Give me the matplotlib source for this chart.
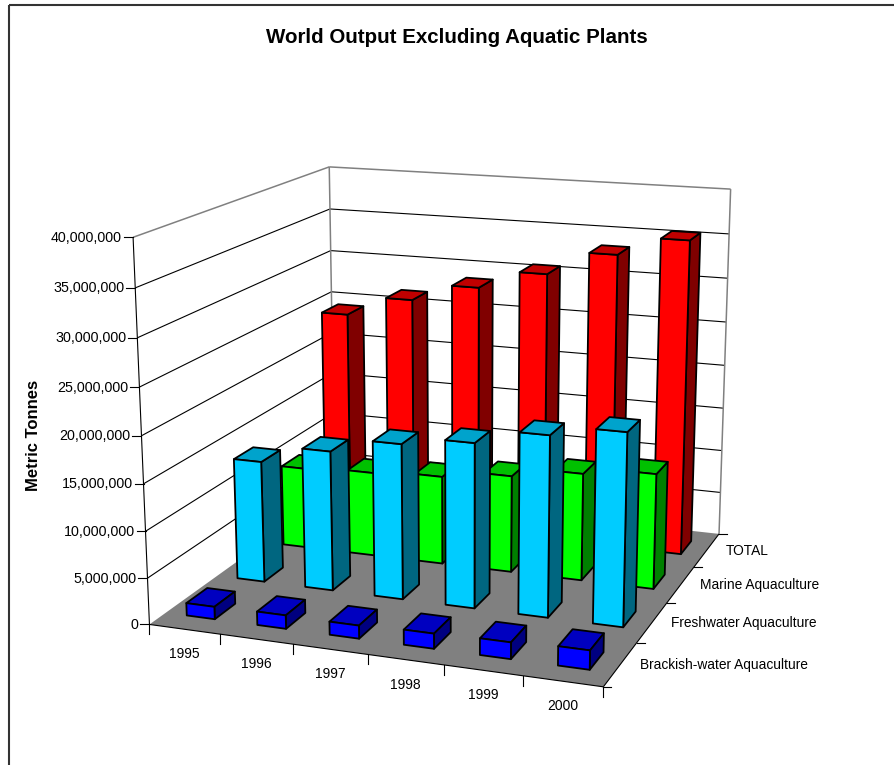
import numpy as np
import matplotlib
matplotlib.use("Agg")
import matplotlib.pyplot as plt
from mpl_toolkits.mplot3d.art3d import Poly3DCollection, Line3DCollection

plt.rcParams['font.family'] = ['Liberation Sans', 'DejaVu Sans']

years = ['1995', '1996', '1997', '1998', '1999', '2000']
series = ['Brackish-water Aquaculture', 'Freshwater Aquaculture', 'Marine Aquaculture', 'TOTAL']
brackish = [1350000, 1450000, 1400000, 1600000, 1750000, 2000000]
freshwater = [13450000, 15400000, 17000000, 17900000, 19500000, 20600000]
marine = [9250000, 9600000, 10000000, 10900000, 12000000, 12800000]
total = [24400000, 26700000, 28700000, 30800000, 33500000, 35600000]
values = [brackish, freshwater, marine, total]
y_ticks = [0, 5000000, 10000000, 15000000, 20000000, 25000000, 30000000, 35000000, 40000000]
face = ['#0000FF', '#00CCFF', '#00FF00', '#FF0000']
side = ['#000080', '#006680', '#008000', '#800000']
top = ['#0000C0', '#00A3CC', '#00C000', '#C00000']

W, H = 895, 765
NX, NY, NZ = 6.0, 4.0, 40.0
world = np.array([[0, 0, 0], [NX, 0, 0], [NX, NY, 0], [0, NY, 0],
                  [0, 0, NZ], [NX, NY, NZ], [0, NY, NZ]], float)
pix = np.array([[149.3, 624], [603.3, 687.3], [719, 533.3], [335, 492],
                [133.3, 237.3], [730.7, 189.3], [329, 166.7]], float)
A, b = [], []
for (X, Y, Z), (u, v) in zip(world, pix):
    A.append([X, Y, Z, 1, 0, 0, 0, 0, -u*X, -u*Y, -u*Z]); b.append(u)
    A.append([0, 0, 0, 0, X, Y, Z, 1, -v*X, -v*Y, -v*Z]); b.append(v)
p = np.linalg.lstsq(np.array(A), np.array(b), rcond=None)[0]
P = np.append(p, 1).reshape(3, 4)


def project(X, Y, Z):
    q = P @ np.array([X, Y, Z, 1.0])
    return q[0]/q[2], q[1]/q[2]


M = np.array([P[0], H*P[2]-P[1], P[2]-np.array([0, 0, 0, 0.5]), P[2]])

fig = plt.figure(figsize=(W/100, H/100), dpi=100, facecolor='white')
ax = fig.add_axes([0, 0, 1, 1], projection='3d', computed_zorder=False)
ax.set_axis_off()
ax.patch.set_visible(False)


def fixed_proj():
    ax.viewLim.intervalx = (0, W)
    ax.viewLim.intervaly = (0, H)
    return M


ax.get_proj = fixed_proj
ax.apply_aspect = lambda position=None: None

GRID = 0.8
grid_segs = []
for v in y_ticks[1:-1]:
    z = v/1e6
    grid_segs += [[(0, 0, z), (0, NY, z)], [(0, NY, z), (NX, NY, z)]]
ax.add_collection3d(Line3DCollection(grid_segs, colors='black', linewidths=GRID, zorder=1))
wall_segs = [[(0, 0, NZ), (0, NY, NZ)], [(0, NY, NZ), (NX, NY, NZ)],
             [(0, NY, 0), (0, NY, NZ)], [(NX, NY, 0), (NX, NY, NZ)]]
ax.add_collection3d(Line3DCollection(wall_segs, colors='#808080', linewidths=1.1, zorder=1))
ax.add_collection3d(Poly3DCollection([[(0, 0, 0), (NX, 0, 0), (NX, NY, 0), (0, NY, 0)]],
                                     facecolors='#808080', edgecolors='none', zorder=2))
axis_segs = [[(0, 0, 0), (0, 0, NZ)], [(0, 0, 0), (NX, 0, 0)], [(NX, 0, 0), (NX, NY, 0)]]
ax.add_collection3d(Line3DCollection(axis_segs, colors='black', linewidths=GRID, zorder=3))

zo = 10
for j in range(3, -1, -1):
    for i in range(5, -1, -1):
        z = values[j][i]/1e6
        x0, x1 = i+0.3, i+0.7
        y0, y1 = j+0.3, j+0.7
        faces = [[(x0, y0, 0), (x1, y0, 0), (x1, y0, z), (x0, y0, z)],
                 [(x1, y0, 0), (x1, y1, 0), (x1, y1, z), (x1, y0, z)],
                 [(x0, y0, z), (x1, y0, z), (x1, y1, z), (x0, y1, z)]]
        ax.add_collection3d(Poly3DCollection(faces, facecolors=[face[j], side[j], top[j]],
                                             edgecolors='black', linewidths=1.3, zorder=zo))
        zo += 1

ov = fig.add_axes([0, 0, 1, 1], facecolor='none')
ov.set_xlim(0, W)
ov.set_ylim(H, 0)
ov.set_axis_off()

ov.plot([9, 9], [5, H], color='#333333', lw=1.5, solid_capstyle='butt')
ov.plot([9, W], [5, 5], color='#333333', lw=1.5, solid_capstyle='butt')

for v in y_ticks:
    u0, v0 = project(0, 0, v/1e6)
    ov.plot([u0-9, u0], [v0, v0], color='black', lw=GRID)
    ov.text(u0-11, v0+0.5, f'{v:,}', ha='right', va='center', fontsize=10.3, color='black')
for i in range(7):
    u0, v0 = project(i, 0, 0)
    ov.plot([u0, u0], [v0, v0+10], color='black', lw=GRID)
for i, lab in enumerate(years):
    u0, v0 = project(i+0.5, 0, 0)
    ov.text(u0, v0+25, lab, ha='center', va='center', fontsize=10, color='black')
for j in range(5):
    u0, v0 = project(NX, j, 0)
    ov.plot([u0, u0+8], [v0, v0], color='black', lw=GRID)
for j, lab in enumerate(series):
    u0, v0 = project(NX, j+0.5, 0)
    ov.text(u0+19, v0+1, lab, ha='left', va='center', fontsize=9.9, color='black')

ov.text(457, 37, 'World Output Excluding Aquatic Plants', ha='center', va='center',
        fontsize=14.8, fontweight='bold', color='black')
ov.text(34, 435, 'Metric Tonnes', rotation=90, ha='center', va='center',
        fontsize=12, fontweight='bold', color='black')

fig.savefig('out.png', dpi=100)
